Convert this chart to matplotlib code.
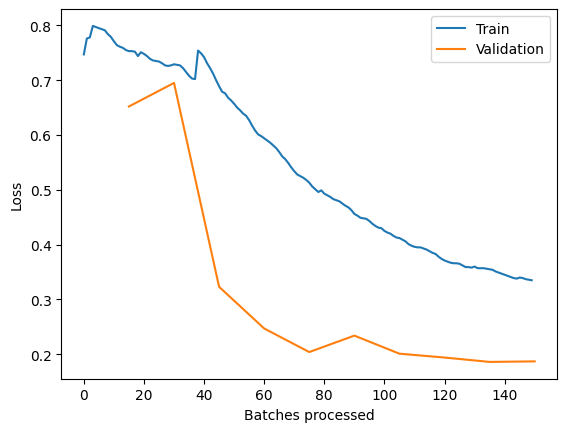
import matplotlib
matplotlib.use("Agg")
import matplotlib.pyplot as plt

# training loss, one value per batch
train_loss = [
    0.747, 0.776, 0.778, 0.799, 0.797, 0.795, 0.793, 0.791, 0.784, 0.779,
    0.771, 0.764, 0.761, 0.759, 0.755, 0.753, 0.753, 0.752, 0.744, 0.751,
    0.748, 0.744, 0.739, 0.736, 0.735, 0.734, 0.731, 0.727, 0.726, 0.727,
    0.729, 0.728, 0.727, 0.722, 0.715, 0.708, 0.703, 0.702, 0.754, 0.749,
    0.742, 0.731, 0.722, 0.712, 0.700, 0.689, 0.679, 0.676, 0.668, 0.663,
    0.657, 0.650, 0.645, 0.639, 0.635, 0.627, 0.617, 0.608, 0.601, 0.598,
    0.594, 0.590, 0.586, 0.581, 0.576, 0.569, 0.561, 0.556, 0.549, 0.541,
    0.534, 0.528, 0.525, 0.522, 0.518, 0.513, 0.506, 0.501, 0.496, 0.499,
    0.493, 0.490, 0.487, 0.483, 0.481, 0.479, 0.475, 0.471, 0.468, 0.463,
    0.456, 0.453, 0.449, 0.448, 0.447, 0.443, 0.438, 0.434, 0.431, 0.430,
    0.425, 0.422, 0.420, 0.416, 0.413, 0.412, 0.409, 0.406, 0.401, 0.398,
    0.396, 0.395, 0.395, 0.393, 0.391, 0.388, 0.385, 0.383, 0.378, 0.374,
    0.371, 0.369, 0.367, 0.366, 0.366, 0.365, 0.362, 0.359, 0.359, 0.358,
    0.360, 0.357, 0.357, 0.357, 0.356, 0.355, 0.354, 0.351, 0.349, 0.347,
    0.345, 0.343, 0.341, 0.339, 0.338, 0.340, 0.339, 0.337, 0.336, 0.335,
]
train_batches = list(range(len(train_loss)))

# validation loss, evaluated every 15 batches
valid_batches = [15, 30, 45, 60, 75, 90, 105, 120, 135, 150]
valid_loss = [0.652, 0.695, 0.323, 0.247, 0.204, 0.234, 0.201, 0.194, 0.186, 0.187]

fig, ax = plt.subplots(figsize=(6.4, 4.8), dpi=100)
ax.plot(train_batches, train_loss, label="Train")
ax.plot(valid_batches, valid_loss, label="Validation")
ax.set_xlabel("Batches processed")
ax.set_ylabel("Loss")
ax.legend()

fig.savefig("out.png", bbox_inches="tight")
